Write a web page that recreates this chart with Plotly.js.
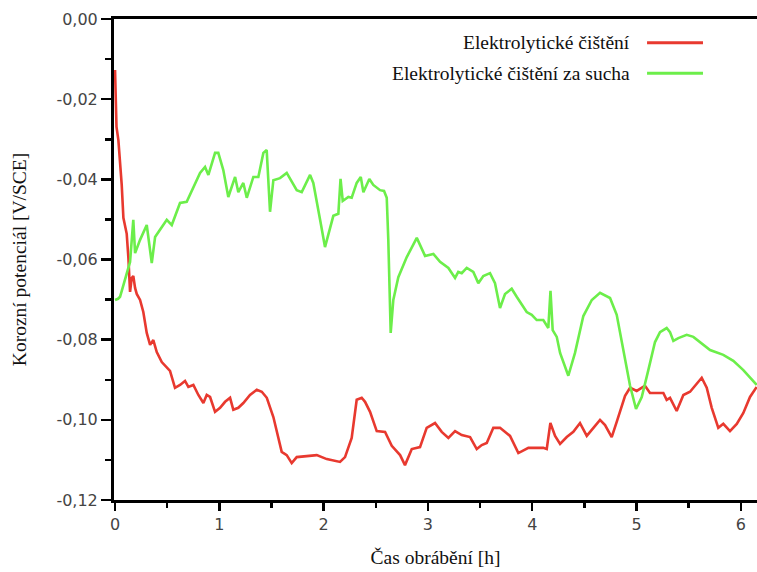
<!DOCTYPE html>
<html>
<head>
<meta charset="utf-8">
<script src="https://cdn.plot.ly/plotly-3.0.1.min.js"></script>
<style>
html,body{margin:0;padding:0;background:#fff;}
#chart{width:757px;height:572px;}
</style>
</head>
<body>
<div id="chart"></div>
<script>
// ---- Data ----
const seriesNames = ["Elektrolytické čištění", "Elektrolytické čištění za sucha"];

const redTime = [0,0.005,0.014,0.032,0.048,0.064,0.080,0.112,0.128,0.144,0.160,0.175,0.192,0.208,0.240,0.271,0.304,0.336,0.367,0.400,0.448,0.496,0.527,0.575,0.623,0.671,0.703,0.751,0.799,0.847,0.879,0.911,0.959,1.007,1.055,1.103,1.134,1.182,1.230,1.294,1.359,1.407,1.455,1.518,1.566,1.598,1.646,1.694,1.742,1.838,1.934,2.030,2.157,2.205,2.269,2.317,2.365,2.397,2.445,2.509,2.589,2.653,2.733,2.780,2.845,2.924,2.988,3.068,3.132,3.196,3.260,3.324,3.404,3.468,3.516,3.564,3.627,3.691,3.787,3.867,3.963,4.106,4.139,4.174,4.219,4.267,4.331,4.394,4.458,4.523,4.586,4.650,4.698,4.762,4.810,4.890,4.938,5.002,5.081,5.129,5.257,5.289,5.321,5.385,5.449,5.513,5.577,5.625,5.673,5.721,5.784,5.832,5.896,5.961,6.024,6.088,6.152];
const redPotential = [-0.0127,-0.0227,-0.0269,-0.0302,-0.0352,-0.0414,-0.0496,-0.0536,-0.0596,-0.0681,-0.0646,-0.0641,-0.0671,-0.0686,-0.0701,-0.0731,-0.0783,-0.0813,-0.0801,-0.0831,-0.0856,-0.0871,-0.0878,-0.0920,-0.0913,-0.0903,-0.0918,-0.0913,-0.0938,-0.0958,-0.0938,-0.0943,-0.0980,-0.0970,-0.0955,-0.0945,-0.0975,-0.0970,-0.0958,-0.0938,-0.0925,-0.0930,-0.0945,-0.0993,-0.1043,-0.1080,-0.1088,-0.1108,-0.1093,-0.1090,-0.1088,-0.1098,-0.1105,-0.1093,-0.1045,-0.0950,-0.0945,-0.0955,-0.0980,-0.1028,-0.1030,-0.1065,-0.1088,-0.1113,-0.1073,-0.1068,-0.1020,-0.1008,-0.1030,-0.1045,-0.1028,-0.1038,-0.1043,-0.1073,-0.1063,-0.1058,-0.1020,-0.1020,-0.1040,-0.1083,-0.1070,-0.1070,-0.1073,-0.1008,-0.1040,-0.1060,-0.1043,-0.1030,-0.1008,-0.1040,-0.1020,-0.1000,-0.1013,-0.1043,-0.1005,-0.0940,-0.0920,-0.0928,-0.0915,-0.0933,-0.0933,-0.0950,-0.0945,-0.0978,-0.0938,-0.0930,-0.0910,-0.0895,-0.0920,-0.0970,-0.1020,-0.1010,-0.1028,-0.1010,-0.0983,-0.0943,-0.0918];

const greenTime = [0,0.029,0.048,0.077,0.112,0.144,0.175,0.192,0.240,0.304,0.352,0.384,0.431,0.496,0.544,0.623,0.687,0.751,0.815,0.863,0.895,0.959,0.990,1.038,1.086,1.151,1.182,1.230,1.263,1.326,1.374,1.422,1.454,1.486,1.518,1.582,1.646,1.742,1.790,1.870,1.901,1.966,2.013,2.093,2.141,2.162,2.183,2.237,2.269,2.317,2.356,2.381,2.438,2.476,2.541,2.579,2.605,2.620,2.643,2.668,2.716,2.797,2.893,2.972,3.052,3.116,3.196,3.260,3.291,3.324,3.372,3.435,3.483,3.531,3.595,3.643,3.691,3.739,3.803,3.851,3.899,3.947,3.995,4.043,4.106,4.154,4.175,4.196,4.235,4.267,4.346,4.410,4.490,4.571,4.650,4.746,4.810,4.873,4.938,4.995,5.050,5.113,5.177,5.225,5.289,5.321,5.353,5.401,5.481,5.545,5.640,5.705,5.832,5.928,6.024,6.152];
const greenPotential = [-0.0701,-0.0698,-0.0693,-0.0668,-0.0634,-0.0606,-0.0501,-0.0584,-0.0551,-0.0514,-0.0609,-0.0544,-0.0526,-0.0501,-0.0514,-0.0459,-0.0456,-0.0419,-0.0384,-0.0369,-0.0389,-0.0334,-0.0334,-0.0377,-0.0444,-0.0394,-0.0432,-0.0409,-0.0446,-0.0394,-0.0394,-0.0334,-0.0327,-0.0481,-0.0402,-0.0397,-0.0384,-0.0427,-0.0432,-0.0389,-0.0409,-0.0501,-0.0569,-0.0491,-0.0486,-0.0399,-0.0454,-0.0444,-0.0446,-0.0409,-0.0394,-0.0432,-0.0399,-0.0414,-0.0427,-0.0429,-0.0446,-0.0551,-0.0783,-0.0701,-0.0644,-0.0594,-0.0546,-0.0591,-0.0586,-0.0606,-0.0621,-0.0646,-0.0631,-0.0634,-0.0621,-0.0631,-0.0659,-0.0641,-0.0634,-0.0659,-0.0721,-0.0686,-0.0673,-0.0693,-0.0713,-0.0731,-0.0738,-0.0751,-0.0751,-0.0771,-0.0678,-0.0776,-0.0793,-0.0833,-0.0890,-0.0833,-0.0741,-0.0701,-0.0683,-0.0696,-0.0738,-0.0826,-0.0915,-0.0973,-0.0943,-0.0876,-0.0806,-0.0781,-0.0771,-0.0781,-0.0803,-0.0796,-0.0788,-0.0793,-0.0813,-0.0826,-0.0838,-0.0853,-0.0876,-0.0913];

const xTickVals = [0,1,2,3,4,5,6];
const xTickText = ["0","1","2","3","4","5","6"];
const yTickVals = [0,-0.02,-0.04,-0.06,-0.08,-0.10,-0.12];
const yTickText = ["0,00","-0,02","-0,04","-0,06","-0,08","-0,10","-0,12"];

const xTitle = "Čas obrábění [h]";
const yTitle = "Korozní potenciál [V/SCE]";

// ---- Styles ----
const RED = "#e8392f";
const GREEN = "#6cee4a";
const serif = "'Liberation Serif', 'Times New Roman', serif";
const sans = "'DejaVu Sans', Arial, sans-serif";

const traces = [
  {x: redTime, y: redPotential, name: seriesNames[0], type: "scatter", mode: "lines",
   line: {color: RED, width: 2.6}, showlegend: false},
  {x: greenTime, y: greenPotential, name: seriesNames[1], type: "scatter", mode: "lines",
   line: {color: GREEN, width: 2.6}, showlegend: false}
];

const legendRows = [0.9507, 0.8871];
const annotations = seriesNames.map((n, i) => ({
  text: n, xref: "paper", yref: "paper", x: 0.8056, y: legendRows[i],
  xanchor: "right", yanchor: "middle", showarrow: false,
  font: {family: serif, size: 19.5, color: "#111"}
}));
const shapes = [RED, GREEN].map((c, i) => ({
  type: "line", xref: "paper", yref: "paper",
  x0: 0.829, x1: 0.916, y0: legendRows[i], y1: legendRows[i],
  line: {color: c, width: 3}
}));

const layout = {
  width: 757, height: 572,
  margin: {l: 114, r: 0, t: 19, b: 72},
  paper_bgcolor: "#fff", plot_bgcolor: "#fff",
  showlegend: false,
  xaxis: {
    range: [-0.01, 6.155], tickmode: "array", tickvals: xTickVals, ticktext: xTickText,
    showgrid: false, zeroline: false, showline: true, linecolor: "#000", linewidth: 3,
    mirror: true, ticks: "outside", ticklen: 8, tickwidth: 2.5, tickcolor: "#000",
    minor: {dtick: 0.5, tick0: 0, ticks: "outside", ticklen: 5, tickwidth: 2.5, tickcolor: "#000", showgrid: false},
    tickfont: {family: sans, size: 16, color: "#444"},
    title: {text: xTitle, font: {family: serif, size: 19.5, color: "#111"}, standoff: 18}
  },
  yaxis: {
    range: [-0.12, 0], tickmode: "array", tickvals: yTickVals, ticktext: yTickText,
    showgrid: false, zeroline: false, showline: true, linecolor: "#000", linewidth: 3,
    mirror: false, ticks: "outside", ticklen: 10, tickwidth: 2.5, tickcolor: "#000",
    minor: {dtick: 0.01, tick0: 0, ticks: "outside", ticklen: 6, tickwidth: 2.5, tickcolor: "#000", showgrid: false},
    tickfont: {family: sans, size: 16, color: "#444"},
    title: {text: yTitle, font: {family: serif, size: 19.5, color: "#111"}, standoff: 25}
  },
  annotations: annotations,
  shapes: shapes
};

Plotly.newPlot("chart", traces, layout, {displayModeBar: false, staticPlot: true});
</script>
</body>
</html>
